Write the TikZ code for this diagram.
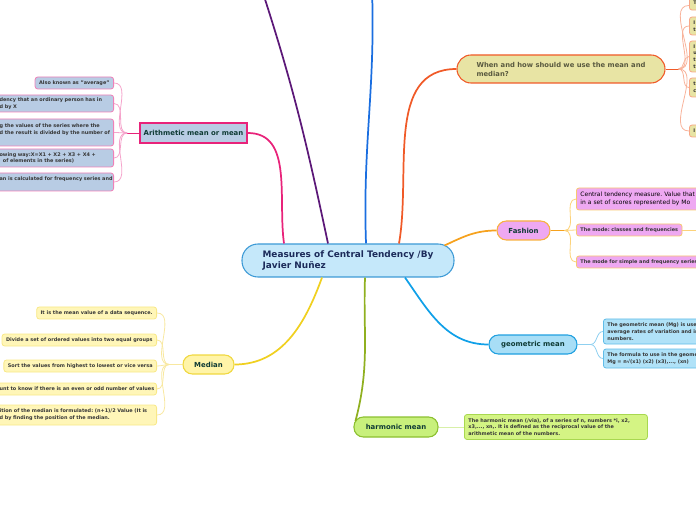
\documentclass[tikz,border=0pt]{standalone}
\usepackage{fontspec}
\setmainfont{DejaVu Sans}
\usetikzlibrary{calc}
\frenchspacing

\definecolor{cmfill}{HTML}{C5E8FA}
\definecolor{cmline}{HTML}{3D9AD6}
\definecolor{cmtext}{HTML}{1C2B5A}
\definecolor{brtext}{HTML}{0F3B35}
\definecolor{lftext}{HTML}{363636}
\definecolor{arfill}{HTML}{B8CCE4}
\definecolor{arline}{HTML}{E8237A}
\definecolor{arleaf}{HTML}{F080B8}
\definecolor{artwig}{HTML}{F5A3CB}
\definecolor{plink}{HTML}{5C1878}
\definecolor{blink}{HTML}{1A6EE0}
\definecolor{whfill}{HTML}{E8E4A4}
\definecolor{whline}{HTML}{F05A28}
\definecolor{whtext}{HTML}{5A5A40}
\definecolor{whleaf}{HTML}{F8A888}
\definecolor{whtwig}{HTML}{F8B39B}
\definecolor{fafill}{HTML}{EEA8F2}
\definecolor{faline}{HTML}{F8B040}
\definecolor{falink}{HTML}{F6A21E}
\definecolor{faleaf}{HTML}{F8C870}
\definecolor{fatwig}{HTML}{FCD27A}
\definecolor{gefill}{HTML}{A8DEF6}
\definecolor{geline}{HTML}{20A0E0}
\definecolor{gelink}{HTML}{10A0E8}
\definecolor{geleaffill}{HTML}{B0E2F8}
\definecolor{geleaf}{HTML}{60BCE8}
\definecolor{getwig}{HTML}{8FD0F0}
\definecolor{hafill}{HTML}{C8F07C}
\definecolor{haline}{HTML}{8CC030}
\definecolor{halink}{HTML}{90B020}
\definecolor{haleaffill}{HTML}{D4F484}
\definecolor{haleaf}{HTML}{A8D850}
\definecolor{hatwig}{HTML}{D8F0A8}
\definecolor{mefill}{HTML}{FFF4A8}
\definecolor{meline}{HTML}{F0D840}
\definecolor{melink}{HTML}{F0D020}
\definecolor{meleaffill}{HTML}{FFF6B8}
\definecolor{meleaf}{HTML}{F8E888}
\definecolor{metwig}{HTML}{F8E8A0}

\begin{document}
\begin{tikzpicture}[x=0.75pt, y=-0.75pt,
    topic/.style = {rectangle, draw=cmline, fill=cmfill, line width=0.8pt, rounded corners=12pt, minimum width=159pt, minimum height=24.75pt, align=left, text=cmtext, font=\fontsize{6.7}{8.25}\selectfont\bfseries},
    branch/.style = {rectangle, line width=0.8pt, rounded corners=7pt, minimum height=14.25pt, inner sep=0pt, text=brtext, font=\fontsize{5.2}{6}\selectfont\bfseries},
    leaf/.style = {rectangle, line width=0.6pt, rounded corners=2pt, inner xsep=3pt, inner ysep=0.5pt, align=left, text=lftext, font=\fontsize{3.7}{5.1}\selectfont\bfseries},
    link/.style = {draw, line width=1.3pt},
    twig/.style = {draw, line width=0.6pt}
]
    \useasboundingbox (0,0) rectangle (696,520);
    \clip (0,0) rectangle (696,520);

    % Central topic
    \node [topic] (cm) at (348,260.5) {Measures of Central Tendency /By\\Javier Nuñez};

    % Main branches
    \node [branch, rounded corners=0pt, draw=arline, fill=arfill, line width=1.2pt, minimum width=80.25pt, minimum height=15pt] (arith) at (193.5,133) {Arithmetic mean or mean};
    \node [branch, draw=whline, fill=whfill, rounded corners=10.5pt, minimum width=156pt, minimum height=21pt, align=left, text=whtext, font=\fontsize{5.1}{6.75}\selectfont\bfseries] (when) at (561,69) {When and how should we use the mean and\\median?};
    \node [branch, draw=faline, fill=fafill, minimum width=39.75pt] (fashion) at (523.5,230.5) {Fashion};
    \node [branch, draw=geline, fill=gefill, minimum width=66pt] (geo) at (533,344.5) {geometric mean};
    \node [branch, draw=haline, fill=hafill, minimum width=63pt, minimum height=15pt] (harm) at (396,427) {harmonic mean};
    \node [branch, draw=meline, fill=mefill, minimum width=38.25pt] (median) at (208.5,364.5) {Median};

    % Branches leaving the picture
    \coordinate (upleft) at (262,-10);
    \coordinate (upright) at (372,-10);

    % Arithmetic mean leaves
    \node [leaf, draw=arleaf, fill=arfill, anchor=east, minimum height=9pt] (a1) at (114,83) {Also known as "average"};
    \node [leaf, draw=arleaf, fill=arfill, anchor=east, minimum height=12.75pt, text width=82.5pt] (a2) at (114,103.5) {dency that an ordinary person has in\\d by X};
    \node [leaf, draw=arleaf, fill=arfill, anchor=east, minimum height=20.25pt, text width=82.5pt] (a3) at (114,132.5) {g the values of the series where the\\\mbox{d the result is divided by the number of}\\~};
    \node [leaf, draw=arleaf, fill=arfill, anchor=east, minimum height=13.5pt, text width=82.5pt] (a4) at (114,158) {owing way:X=X1 + X2 + X3 + X4 +\\\hspace{2.5pt}of elements in the series)};
    \node [leaf, draw=arleaf, fill=arfill, anchor=east, minimum height=13.5pt, text width=82.5pt] (a5) at (114,182) {\mbox{an is calculated for frequency series and}\\~};

    % When and how leaves
    \node [leaf, draw=whleaf, fill=whfill, anchor=north west, minimum height=14pt, text width=20pt] (w1) at (689,-9) {~\\T};
    \node [leaf, draw=whleaf, fill=whfill, anchor=west, minimum height=13.5pt, text width=20pt] (w2) at (689,26) {I\\t};
    \node [leaf, draw=whleaf, fill=whfill, anchor=west, minimum height=23.25pt, text width=20pt] (w3) at (689,56.5) {I\\u\\t\\t};
    \node [leaf, draw=whleaf, fill=whfill, anchor=west, minimum height=14.25pt, text width=20pt] (w4) at (689,87.5) {t\\c};
    \node [leaf, draw=whleaf, fill=whfill, anchor=west, minimum height=9pt, text width=20pt] (w5) at (689,131) {I};

    % Fashion leaves
    \node [leaf, draw=faleaf, fill=fafill, anchor=west, minimum height=16.5pt, text width=200pt, font=\fontsize{4.5}{6.4}\selectfont, text=black] (f1) at (576,199) {Central tendency measure. Value that appears most often\\in a set of scores represented by Mo};
    \node [leaf, draw=faleaf, fill=fafill, anchor=west, minimum height=9pt] (f2) at (576,230) {The mode: classes and frequencies};
    \node [leaf, draw=faleaf, fill=fafill, anchor=west, minimum height=9pt] (f3) at (576,262) {The mode for simple and frequency series};
    \coordinate (f2out) at (700,230);

    % Geometric mean leaves
    \node [leaf, draw=geleaf, fill=geleaffill, anchor=west, minimum height=18.75pt, text width=110pt] (g1) at (603,331.5) {The geometric mean (Mg) is used to\\average rates of variation and in\\numbers.};
    \node [leaf, draw=geleaf, fill=geleaffill, anchor=west, minimum height=14.25pt, text width=110pt] (g2) at (603,358.5) {The formula to use in the geometric\\Mg = n√(x1) (x2) (x3),..., (xn)};

    % Harmonic mean leaf
    \node [leaf, draw=haleaf, fill=haleaffill, anchor=west, text width=131.25pt, minimum height=18.75pt] (h1) at (464,427) {The harmonic mean (/via), of a series of n, numbers *i, x2,\\x3,..., xn,. It is defined as the reciprocal value of the\\arithmetic mean of the numbers.};

    % Median leaves
    \node [leaf, draw=meleaf, fill=meleaffill, anchor=east, minimum height=9pt] (m1) at (157,313) {It is the mean value of a data sequence.};
    \node [leaf, draw=meleaf, fill=meleaffill, anchor=east, minimum height=9pt] (m2) at (157,340) {Divide a set of ordered values into two equal groups};
    \node [leaf, draw=meleaf, fill=meleaffill, anchor=east, minimum height=9pt] (m3) at (157,366) {Sort the values from highest to lowest or vice versa};
    \node [leaf, draw=meleaf, fill=meleaffill, anchor=east, minimum height=9pt, text width=114.75pt] (m4) at (157,389) {\mbox{unt to know if there is an even or odd number of values}};
    \node [leaf, draw=meleaf, fill=meleaffill, anchor=east, minimum height=15pt, text width=114.75pt] (m5) at (157,415) {\mbox{ition of the median is formulated: (n+1)/2 Value (It is}\\d by finding the position of the median.};

    % Hubs
    \coordinate (ahub) at ($(arith.west)+(-12,0)$);
    \coordinate (whub) at ($(when.east)+(13,0)$);
    \coordinate (fhub) at ($(fashion.east)+(14,0)$);
    \coordinate (ghub) at ($(geo.east)+(13,0)$);
    \coordinate (mhub) at ($(median.west)+(-13,0)$);

    % Edges from the central topic
    \path [link, arline] ($(cm.north)+(-64,0)$) to[out=98, in=0] (arith.east);
    \path [link, plink] ($(cm.north)+(-20,0)$) to[out=102, in=-72] (upleft);
    \path [link, blink] ($(cm.north)+(18,0)$) to[out=92, in=-88] (upright);
    \path [link, whline] ($(cm.north)+(51,0)$) to[out=80, in=180] (when.west);
    \path [link, falink] ($(cm.north east)+(-10,2)$) to[out=25, in=180] (fashion.west);
    \path [link, gelink] ($(cm.south)+(57,0)$) to[out=-55, in=180] (geo.west);
    \path [link, halink] ($(cm.south)+(17,0)$) to[out=-92, in=75] ($(harm.west)+(2,-6)$);
    \path [link, melink] ($(cm.south)+(-26,0)$) to[out=-110, in=0] (median.east);

    % Arithmetic mean twigs
    \path [twig, arline] (arith.west) -- (ahub);
    \path [twig, artwig] (ahub) to[out=180, in=0] (a1.east);
    \path [twig, artwig] (ahub) to[out=180, in=0] (a2.east);
    \path [twig, artwig] (ahub) to[out=180, in=0] (a3.east);
    \path [twig, artwig] (ahub) to[out=180, in=0] (a4.east);
    \path [twig, artwig] (ahub) to[out=180, in=0] (a5.east);

    % When and how twigs
    \path [twig, whline] (when.east) -- (whub);
    \path [twig, whtwig] (whub) to[out=0, in=180] ($(w1.south west)+(0,-5)$);
    \path [twig, whtwig] (whub) to[out=0, in=180] (w2.west);
    \path [twig, whtwig] (whub) to[out=0, in=180] (w3.west);
    \path [twig, whtwig] (whub) to[out=0, in=180] (w4.west);
    \path [twig, whtwig] (whub) to[out=0, in=180] (w5.west);

    % Fashion twigs
    \path [twig, falink] (fashion.east) -- (fhub);
    \path [twig, fatwig] (fhub) to[out=0, in=180] (f1.west);
    \path [twig, fatwig] (fhub) -- (f2.west);
    \path [twig, fatwig] (fhub) to[out=0, in=180] (f3.west);
    \path [twig, fatwig] (f2.east) -- (f2out);

    % Geometric mean twigs
    \path [twig, getwig] (geo.east) -- (ghub);
    \path [twig, getwig] (ghub) to[out=0, in=180] (g1.west);
    \path [twig, getwig] (ghub) to[out=0, in=180] (g2.west);

    % Harmonic mean twig
    \path [twig, hatwig] (harm.east) -- (h1.west);

    % Median twigs
    \path [twig, metwig] (median.west) -- (mhub);
    \path [twig, metwig] (mhub) to[out=180, in=0] (m1.east);
    \path [twig, metwig] (mhub) to[out=180, in=0] (m2.east);
    \path [twig, metwig] (mhub) to[out=180, in=0] (m3.east);
    \path [twig, metwig] (mhub) to[out=180, in=0] (m4.east);
    \path [twig, metwig] (mhub) to[out=180, in=0] (m5.east);

\end{tikzpicture}
\end{document}
